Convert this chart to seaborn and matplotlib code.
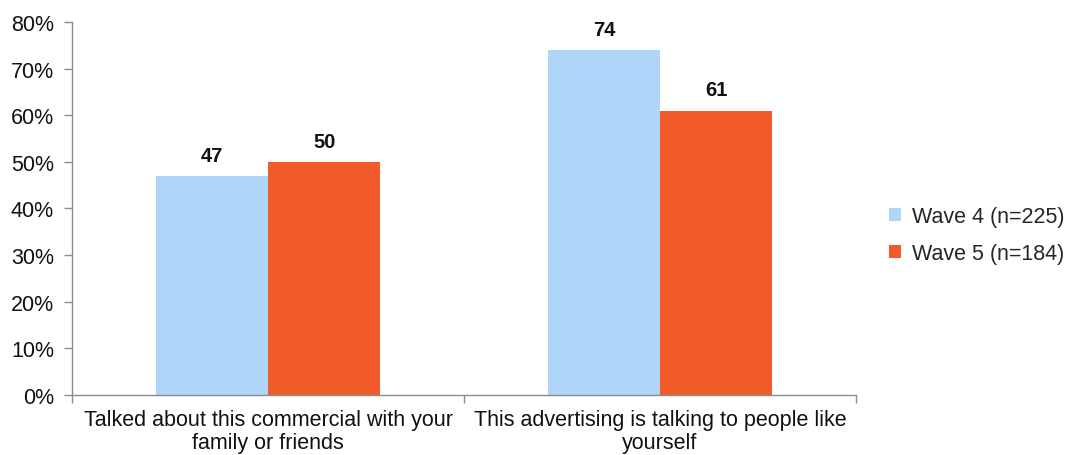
import matplotlib
matplotlib.use("Agg")
import matplotlib.pyplot as plt
import seaborn as sns
import pandas as pd
from matplotlib.ticker import FixedLocator, PercentFormatter
from matplotlib.patches import Patch

categories = ["Talked about this commercial with your\nfamily or friends",
              "This advertising is talking to people like\nyourself"]
wave4 = [47, 74]
wave5 = [50, 61]
series_names = ["Wave 4 (n=225)", "Wave 5 (n=184)"]
colors = ["#AFD5F9", "#F15A29"]
yticks = [0, 10, 20, 30, 40, 50, 60, 70, 80]

df = pd.DataFrame({
    "category": categories * 2,
    "value": wave4 + wave5,
    "series": [series_names[0]] * 2 + [series_names[1]] * 2,
})

sns.set_style("white")
plt.rcParams["font.family"] = ["Liberation Sans", "DejaVu Sans"]
FS = 15.5

fig = plt.figure(figsize=(10.72, 4.56), dpi=100)
ax = fig.add_axes([0.0672, 0.1316, 0.7313, 0.8180])

sns.barplot(data=df, x="category", y="value", hue="series",
            palette=colors, width=0.572, saturation=1, ax=ax,
            legend=False, edgecolor="none", linewidth=0)

ax.set_xlim(-0.5, 1.5)
ax.set_ylim(0, 80)
ax.set_yticks(yticks)
ax.yaxis.set_major_formatter(PercentFormatter(decimals=0))
ax.set_xlabel("")
ax.set_ylabel("")

# value labels above each bar
for cont in ax.containers:
    ax.bar_label(cont, labels=[f"{v:.0f}" for v in cont.datavalues],
                 padding=8, fontsize=14.5, fontweight="bold", color="#111111")

for side in ["top", "right"]:
    ax.spines[side].set_visible(False)
for side in ["left", "bottom"]:
    ax.spines[side].set_color("#8c8c8c")
    ax.spines[side].set_linewidth(1.0)

ax.tick_params(axis="y", which="major", length=6, width=1, color="#8c8c8c",
               left=True, direction="out", labelsize=FS, labelcolor="#111111", pad=7)
# category labels centred, with boundary ticks at -0.5, 0.5, 1.5
ax.tick_params(axis="x", which="major", length=0, labelsize=FS,
               labelcolor="#111111", pad=10)
ax.xaxis.set_minor_locator(FixedLocator([-0.5, 0.5, 1.5]))
ax.tick_params(axis="x", which="minor", length=6, width=1, color="#8c8c8c",
               bottom=True, direction="out")
for lbl in ax.get_xticklabels():
    lbl.set_linespacing(1.15)

handles = [Patch(facecolor=c, edgecolor="none") for c in colors]
fig.legend(handles, series_names, loc="center left",
           bbox_to_anchor=(0.829, 0.482), frameon=False, fontsize=FS,
           borderpad=0, borderaxespad=0,
           handlelength=0.56, handleheight=0.56, handletextpad=0.5,
           labelspacing=0.75)

fig.savefig("out.png", dpi=100)
